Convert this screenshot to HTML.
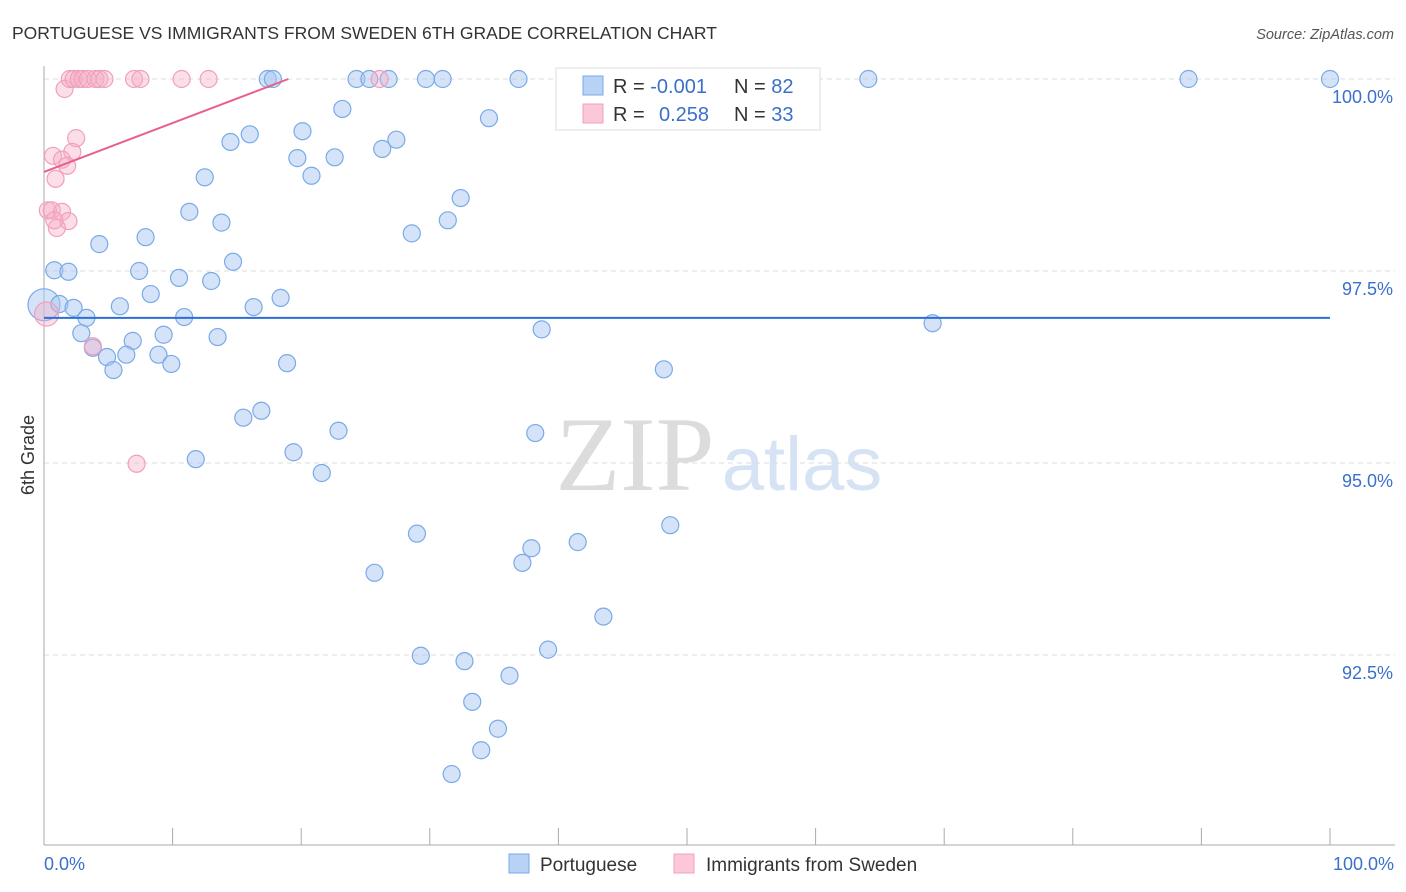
<!DOCTYPE html>
<html><head><meta charset="utf-8"><style>
body{margin:0;background:#fff;font-family:"Liberation Sans",sans-serif}
svg{display:block}
</style></head><body>
<svg id="chart" width="1406" height="892" xmlns="http://www.w3.org/2000/svg">
<text x="12" y="39" font-size="17.5" fill="#333">PORTUGUESE VS IMMIGRANTS FROM SWEDEN 6TH GRADE CORRELATION CHART</text>
<text x="1394" y="39" font-size="14.5" fill="#555" font-style="italic" text-anchor="end">Source: ZipAtlas.com</text>
<text x="635" y="490" font-size="106" fill="#dcdcdc" font-family="Liberation Serif,serif" text-anchor="middle">ZIP</text>
<text x="802" y="490" font-size="76" fill="#d5e3f5" text-anchor="middle">atlas</text>
<text transform="translate(34,455) rotate(-90)" font-size="18" fill="#333" text-anchor="middle">6th Grade</text>
<g id="grid"></g><g id="axes"></g><g id="pts"></g><g id="lines"></g>
<g>
<rect x="556" y="68" width="264" height="62" fill="#fff" stroke="#ddd"/>
<rect x="583" y="76" width="20" height="19" fill="#b8d2f5" stroke="#7aaae8"/>
<rect x="583" y="104" width="20" height="19" fill="#fcc8d8" stroke="#f0a0bc"/>
<text x="613" y="93" font-size="20" fill="#333">R = <tspan fill="#3a70cc">-0.001</tspan></text>
<text x="734" y="93" font-size="20" fill="#333">N = <tspan fill="#3a70cc">82</tspan></text>
<text x="613" y="121" font-size="20" fill="#333">R = <tspan fill="#3a70cc" x="659">0.258</tspan></text>
<text x="734" y="121" font-size="20" fill="#333">N = <tspan fill="#3a70cc">33</tspan></text>
</g>
<g>
<rect x="509" y="854" width="20" height="19" fill="#b8d2f5" stroke="#7aaae8"/>
<text x="540" y="871" font-size="19" fill="#333">Portuguese</text>
<rect x="674" y="854" width="20" height="19" fill="#fcc8d8" stroke="#f0a0bc"/>
<text x="706" y="871" font-size="19" fill="#333">Immigrants from Sweden</text>
</g>
</svg>
<script>
const yTicks=[100,97.5,95,92.5];
const yTickLabels=["100.0%","97.5%","95.0%","92.5%"];
const xTickCount=10;
const xLabels=["0.0%","100.0%"];
const blueX=[17.4,17.8,24.3,25.3,26.8,29.7,31.0,36.9,45.6,51.3,64.1,89.0,100,23.2,34.6,16.0,14.5,20.1,27.4,26.3,19.7,22.6,20.8,12.5,32.4,11.3,31.4,13.8,28.6,4.3,7.9,14.7,0.8,1.9,7.4,10.5,13.0,8.3,18.4,5.9,16.3,1.2,2.3,3.3,10.9,38.7,69.1,2.9,9.3,13.5,3.8,6.9,4.9,6.4,8.9,9.9,5.4,18.9,48.2,16.9,15.5,22.9,38.2,11.8,19.4,21.6,29.0,48.7,37.9,41.5,37.2,25.7,43.5,29.3,32.7,39.2,36.2,33.3,35.3,34.0,31.7];
const blueY=[100,100,100,100,100,100,100,100,100,100,100,100,100,99.61,99.49,99.28,99.18,99.32,99.21,99.09,98.97,98.98,98.74,98.72,98.45,98.27,98.16,98.13,97.99,97.85,97.94,97.62,97.51,97.49,97.50,97.41,97.37,97.20,97.15,97.04,97.03,97.07,97.02,96.89,96.90,96.74,96.82,96.69,96.67,96.64,96.50,96.59,96.38,96.41,96.41,96.29,96.21,96.30,96.22,95.68,95.59,95.42,95.39,95.05,95.14,94.87,94.08,94.19,93.89,93.97,93.70,93.57,93.00,92.49,92.42,92.57,92.23,91.89,91.54,91.26,90.95];
const pinkX=[1.6,2.0,2.3,2.7,3.0,3.4,4.0,4.3,4.7,7.0,7.5,10.7,12.8,26.1,2.5,0.7,2.2,1.4,1.8,0.9,0.3,0.6,1.4,1.9,1.0,0.8,3.8,7.2];
const pinkY=[99.87,100,100,100,100,100,100,100,100,100,100,100,100,100,99.23,99.00,99.05,98.95,98.87,98.70,98.29,98.29,98.27,98.15,98.06,98.16,96.52,94.99];
const bigBlue=[0,97.06];
const bigPink=[0.2,96.94];
const blueTrend=[[0,96.89],[100,96.89]];
const pinkTrend=[[0,98.79],[19,100]];
const NS="http://www.w3.org/2000/svg";
const X0=44,X1=1330,YTOP=79,PPU=76.8;
const sx=v=>X0+(X1-X0)*v/100;
const sy=v=>YTOP+(100-v)*PPU;
function mk(tag,attrs,parent){const e=document.createElementNS(NS,tag);for(const k in attrs)e.setAttribute(k,attrs[k]);document.getElementById(parent).appendChild(e);return e;}
yTicks.forEach((t,i)=>{
 const l=mk('line',{x1:X0,x2:1395,y1:sy(t),y2:sy(t),stroke:'#dcdcdc','stroke-dasharray':'5,4'},'grid');
 
 
 const tx=mk('text',{x:1393,y:sy(t)+24,'font-size':18,fill:'#3a70cc','text-anchor':'end'},'grid');
 tx.textContent=yTickLabels[i];
 
 
});
const ax=mk('line',{x1:X0,x2:X0,y1:66,y2:845,stroke:'#aaa'},'axes');


const bx=mk('line',{x1:X0,x2:1395,y1:845,y2:845,stroke:'#aaa'},'axes');


for(let i=0;i<=xTickCount;i++){
 const t=mk('line',{x1:sx(i*100/xTickCount),x2:sx(i*100/xTickCount),y1:828,y2:845,stroke:'#aaa'},'axes');
 
 
}
const xl0=mk('text',{x:44,y:870,'font-size':18,fill:'#3a70cc'},'axes');xl0.textContent=xLabels[0];


const xl1=mk('text',{x:1394,y:870,'font-size':18,fill:'#3a70cc','text-anchor':'end'},'axes');xl1.textContent=xLabels[1];


function dot(x,y,r,blue){
 const c=mk('circle',{cx:sx(x),cy:sy(y),r:r,fill:blue?'rgba(170,200,242,0.5)':'rgba(246,172,198,0.4)',stroke:blue?'#7aaae8':'#f0a0bc','stroke-width':1.2},'pts');
 
 
}
dot(bigBlue[0],bigBlue[1],16,true);
blueX.forEach((x,i)=>dot(x,blueY[i],8.5,true));
dot(bigPink[0],bigPink[1],12,false);
pinkX.forEach((x,i)=>dot(x,pinkY[i],8.5,false));
const bl=mk('line',{x1:sx(blueTrend[0][0]),y1:sy(blueTrend[0][1]),x2:sx(blueTrend[1][0]),y2:sy(blueTrend[1][1]),stroke:'#2a6fd6','stroke-width':2},'lines');


const pl=mk('line',{x1:sx(pinkTrend[0][0]),y1:sy(pinkTrend[0][1]),x2:sx(pinkTrend[1][0]),y2:sy(pinkTrend[1][1]),stroke:'#e8608a','stroke-width':2},'lines');


</script>
</body></html>
